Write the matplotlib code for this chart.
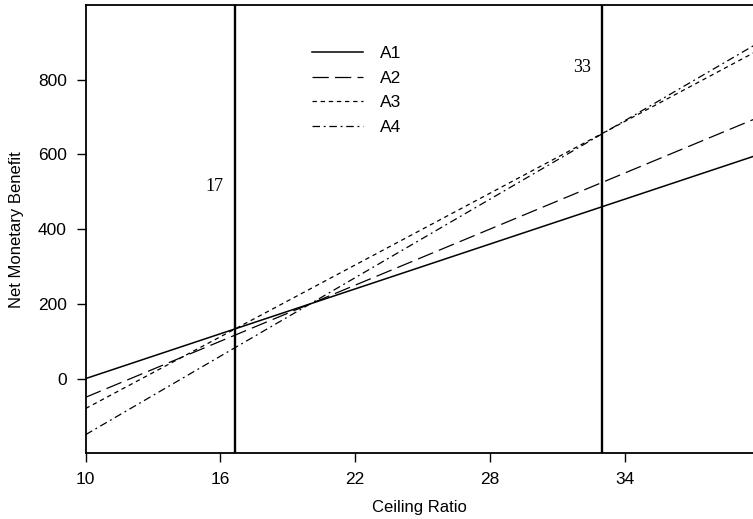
import matplotlib
matplotlib.use("Agg")
import matplotlib.pyplot as plt

# data: lines evaluated at the ends of the ceiling ratio range
ceiling = [10, 40]
A1 = [0, 600]
A2 = [-50, 700]
A3 = [-80, 880]
A4 = [-150, 900]
names = ["A1", "A2", "A3", "A4"]
thresholds = [16.67, 33]
threshold_labels = ["17", "33"]
label_pos = [(15.75, 515), (32.1, 833)]
xticks = [10, 16, 22, 28, 34]
yticks = [0, 200, 400, 600, 800]

plt.rcParams['font.family'] = ['Liberation Sans', 'DejaVu Sans']

fig = plt.figure(figsize=(7.53, 5.19), dpi=100)
ax = fig.add_axes([0.1138, 0.1266, 0.8862, 0.8638])

styles = [
    dict(linestyle='-', lw=1.1),
    dict(linestyle=(0, (13, 5)), lw=0.9),
    dict(linestyle=(0, (3.5, 3)), lw=0.9),
    dict(linestyle=(0, (6, 3, 1.5, 3)), lw=0.9),
]
for name, vals, st in zip(names, [A1, A2, A3, A4], styles):
    ax.plot(ceiling, vals, color='black', label=name, **st)

for t, lab, (lx, ly) in zip(thresholds, threshold_labels, label_pos):
    ax.axvline(t, color='black', lw=1.7)
    ax.text(lx, ly, lab, family=['Liberation Serif', 'DejaVu Serif'],
            fontsize=13, ha='center', va='center')

ax.set_xlim(10, 39.72)
ax.set_ylim(-200, 1000)
ax.set_xticks(xticks)
ax.set_yticks(yticks)
ax.tick_params(direction='out', length=6.5, width=1, labelsize=12.5, pad=7)
ax.spines['right'].set_visible(False)
for s in ['left', 'bottom', 'top']:
    ax.spines[s].set_linewidth(1.3)

ax.set_xlabel("Ceiling Ratio", fontsize=12, labelpad=9)
ax.set_ylabel("Net Monetary Benefit", fontsize=12, labelpad=10)

leg = ax.legend(loc='upper left', bbox_to_anchor=(0.329, 0.925), frameon=False,
                fontsize=12.5, handlelength=2.9, handletextpad=1.0, labelspacing=0.56,
                borderaxespad=0.0)

fig.savefig("out.png", dpi=100)
